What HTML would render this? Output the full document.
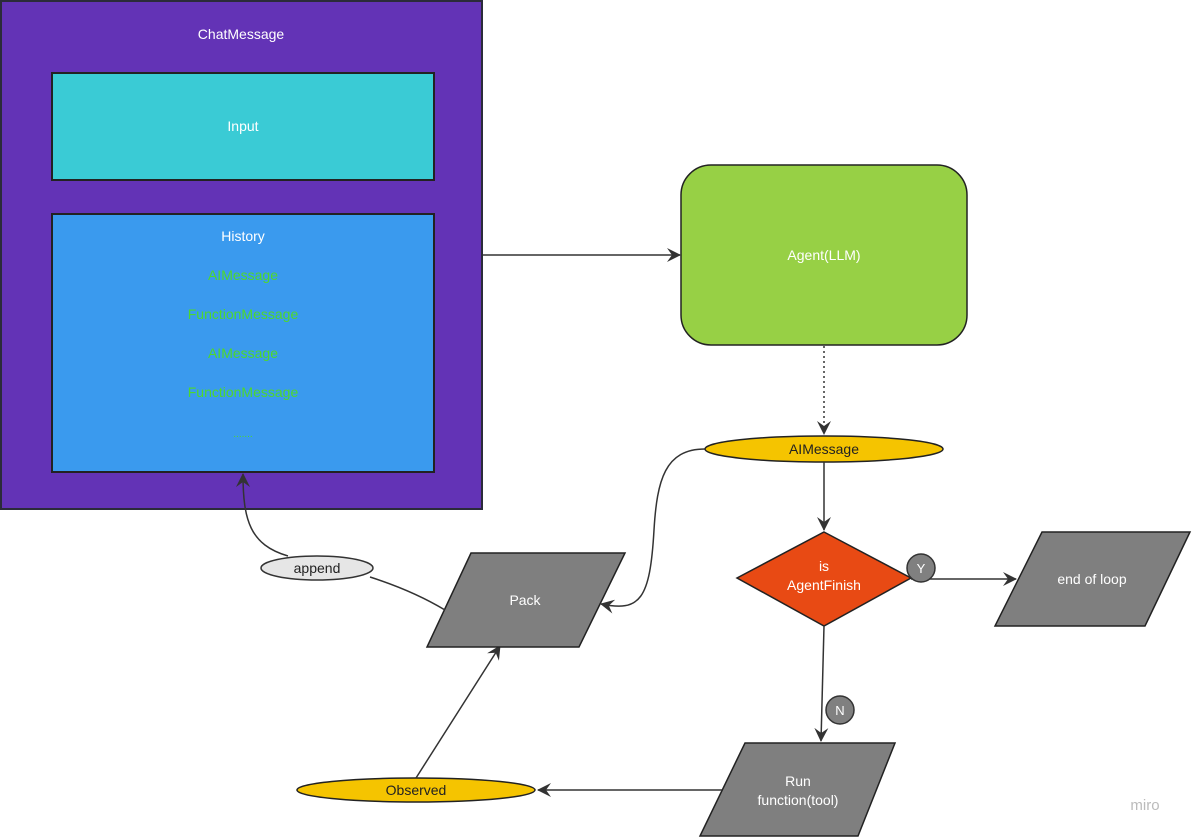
<!DOCTYPE html>
<html><head><meta charset="utf-8"><style>
html,body{margin:0;padding:0;background:#fff;}
svg{display:block;font-family:"Liberation Sans",sans-serif;}
</style></head><body>
<svg width="1192" height="838" viewBox="0 0 1192 838" xmlns="http://www.w3.org/2000/svg">
<defs>
<marker id="ar" markerWidth="16" markerHeight="16" refX="13" refY="8" orient="auto" markerUnits="userSpaceOnUse">
<path d="M0,1 L14,8 L0,15 L5,8 Z" fill="#333"/>
</marker>
</defs>
<rect x="1" y="1" width="481" height="508" fill="#6333b6" stroke="#2b2b3a" stroke-width="2"/>
<text x="241" y="39" fill="#fff" font-size="14" text-anchor="middle">ChatMessage</text>
<rect x="52" y="73" width="382" height="107" fill="#3acbd5" stroke="#222" stroke-width="2"/>
<text x="243" y="131" fill="#fff" font-size="14" text-anchor="middle">Input</text>
<rect x="52" y="214" width="382" height="258" fill="#3a9aee" stroke="#222" stroke-width="2"/>
<g font-size="14" text-anchor="middle">
<text x="243" y="241" fill="#fff">History</text>
<text x="243" y="280" fill="#4ed82c">AIMessage</text>
<text x="243" y="319" fill="#4ed82c">FunctionMessage</text>
<text x="243" y="358" fill="#4ed82c">AIMessage</text>
<text x="243" y="397" fill="#4ed82c">FunctionMessage</text>
<text x="243" y="437" fill="#4ed82c" font-size="10">.......</text>
</g>
<line x1="483" y1="255" x2="680" y2="255" stroke="#333" stroke-width="1.5" marker-end="url(#ar)"/>
<rect x="681" y="165" width="286" height="180" rx="30" fill="#97d045" stroke="#222" stroke-width="1.5"/>
<text x="824" y="260" fill="#fff" font-size="14" text-anchor="middle">Agent(LLM)</text>
<line x1="824" y1="346" x2="824" y2="434" stroke="#333" stroke-width="1.5" stroke-dasharray="2,3" marker-end="url(#ar)"/>
<ellipse cx="824" cy="449" rx="119" ry="13" fill="#f5c400" stroke="#222" stroke-width="1.5"/>
<text x="824" y="454" fill="#222" font-size="14" text-anchor="middle">AIMessage</text>
<line x1="824" y1="462" x2="824" y2="530" stroke="#333" stroke-width="1.5" marker-end="url(#ar)"/>
<polygon points="824,532 911,578 824,626 737,578" fill="#e84a14" stroke="#222" stroke-width="1.5"/>
<text x="824" y="571" fill="#fff" font-size="14" text-anchor="middle">is</text>
<text x="824" y="590" fill="#fff" font-size="14" text-anchor="middle">AgentFinish</text>
<line x1="911" y1="579" x2="1016" y2="579" stroke="#333" stroke-width="1.5" marker-end="url(#ar)"/>
<circle cx="921" cy="568" r="14" fill="#808080" stroke="#333" stroke-width="1.5"/>
<text x="921" y="573" fill="#fff" font-size="13" text-anchor="middle">Y</text>
<polygon points="1042,532 1190,532 1145,626 995,626" fill="#7f7f7f" stroke="#222" stroke-width="1.5"/>
<text x="1092" y="584" fill="#fff" font-size="14" text-anchor="middle">end of loop</text>
<line x1="824" y1="626" x2="821" y2="741" stroke="#333" stroke-width="1.5" marker-end="url(#ar)"/>
<circle cx="840" cy="710" r="14" fill="#808080" stroke="#333" stroke-width="1.5"/>
<text x="840" y="715" fill="#fff" font-size="13" text-anchor="middle">N</text>
<polygon points="745,743 895,743 858,836 700,836" fill="#7f7f7f" stroke="#222" stroke-width="1.5"/>
<text x="798" y="786" fill="#fff" font-size="14" text-anchor="middle">Run</text>
<text x="798" y="805" fill="#fff" font-size="14" text-anchor="middle">function(tool)</text>
<line x1="722" y1="790" x2="538" y2="790" stroke="#333" stroke-width="1.5" marker-end="url(#ar)"/>
<ellipse cx="416" cy="790" rx="119" ry="12" fill="#f5c400" stroke="#222" stroke-width="1.5"/>
<text x="416" y="795" fill="#222" font-size="14" text-anchor="middle">Observed</text>
<line x1="416" y1="778" x2="500" y2="646" stroke="#333" stroke-width="1.5" marker-end="url(#ar)"/>
<polygon points="471,553 625,553 579,647 427,647" fill="#7f7f7f" stroke="#222" stroke-width="1.5"/>
<text x="525" y="605" fill="#fff" font-size="14" text-anchor="middle">Pack</text>
<path d="M705,449 C665,449 657,480 654,530 C650,600 640,612 601,604" fill="none" stroke="#333" stroke-width="1.5" marker-end="url(#ar)"/>
<path d="M445,610 C420,595 395,585 370,577" fill="none" stroke="#333" stroke-width="1.5"/>
<path d="M288,556 C250,545 243,520 243,474" fill="none" stroke="#333" stroke-width="1.5" marker-end="url(#ar)"/>
<ellipse cx="317" cy="568" rx="56" ry="12" fill="#e6e6e6" stroke="#333" stroke-width="1.5"/>
<text x="317" y="573" fill="#222" font-size="14" text-anchor="middle">append</text>
<text x="1145" y="810" fill="#bbb" font-size="15" text-anchor="middle">miro</text>
</svg>
</body></html>
